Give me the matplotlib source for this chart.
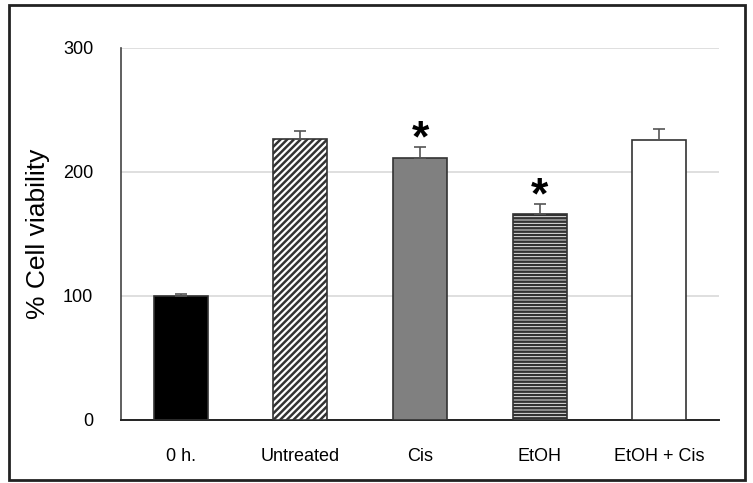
import matplotlib
matplotlib.use("Agg")
import matplotlib.pyplot as plt
from matplotlib.patches import Rectangle

plt.rcParams['font.family'] = ['Liberation Sans', 'DejaVu Sans']
plt.rcParams['hatch.linewidth'] = 1.8

categories = ["0 h.", "Untreated", "Cis", "EtOH", "EtOH + Cis"]
values = [100, 227, 211, 166, 226]
errors = [1.5, 6, 9, 8, 9]
significant = [False, False, True, True, False]
yticks = [0, 100, 200, 300]

fills = ["black", "white", "#808080", "white", "white"]
hatches = [None, "/////", None, "-----", None]

fig = plt.figure(figsize=(7.53, 4.83), dpi=100)
ax = fig.add_axes([121/753, 1-420/483, 598/753, 372/483])

x = list(range(len(categories)))
for i in x:
    ax.bar(i, values[i], width=0.45, color=fills[i], edgecolor="#333333",
           linewidth=1.2, hatch=hatches[i], zorder=3)
ax.errorbar(x, values, yerr=[[0]*len(errors), errors], fmt='none',
            ecolor="#555555", elinewidth=1.2, capsize=4, capthick=1.2, zorder=4)

for i in x:
    if significant[i]:
        ax.text(i, values[i] + errors[i] - 3, "*", ha="center", va="baseline",
                fontsize=32, fontweight="bold", color="black", zorder=5)

ax.set_ylim(0, 300)
ax.set_xlim(-0.5, len(categories) - 0.5)
ax.set_yticks(yticks)
ax.set_xticks(x)
ax.set_xticklabels(categories)
ax.tick_params(axis='both', length=0, labelsize=13, colors="black")
ax.tick_params(axis='y', pad=20)
ax.tick_params(axis='x', pad=20)
ax.grid(axis='y', color="#d9d9d9", linewidth=1.2, zorder=0)
ax.set_axisbelow(True)
for s in ["top", "right"]:
    ax.spines[s].set_visible(False)
ax.spines["left"].set_color("#444444")
ax.spines["left"].set_linewidth(1.2)
ax.spines["bottom"].set_color("#222222")
ax.spines["bottom"].set_linewidth(1.4)
ax.set_ylabel("% Cell viability", fontsize=19, labelpad=9)

fig.patches.append(Rectangle((9/753, 3/483), 736/753, 475/483, transform=fig.transFigure,
                             fill=False, edgecolor="#222222", linewidth=2))

fig.savefig("out.png", dpi=100)
